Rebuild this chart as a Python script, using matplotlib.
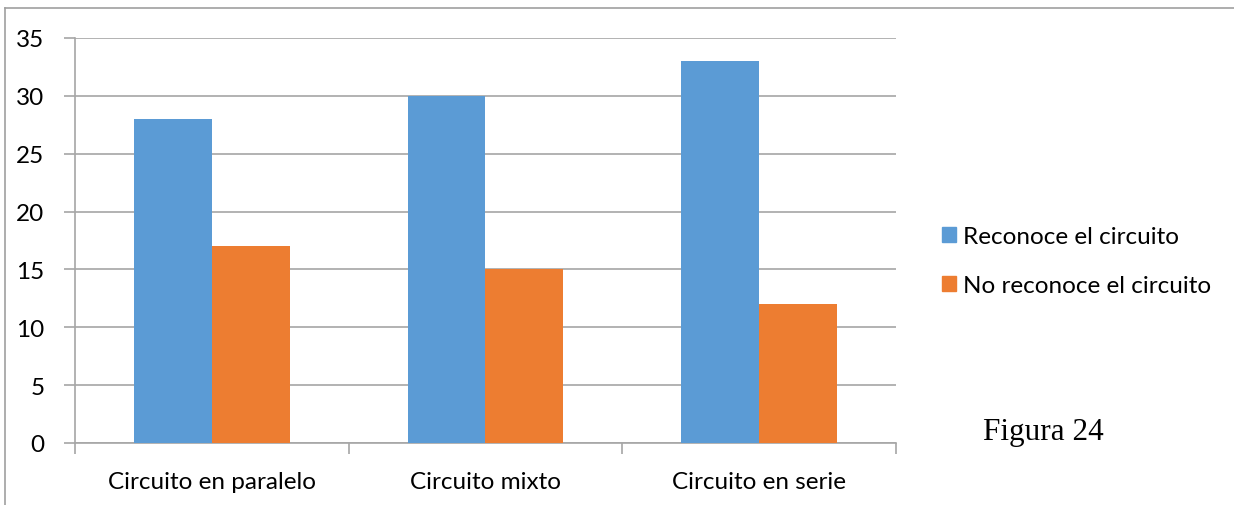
import matplotlib
matplotlib.use("Agg")
import matplotlib.pyplot as plt
from matplotlib.patches import Patch
import numpy as np

categories = ["Circuito en paralelo", "Circuito mixto", "Circuito en serie"]
reconoce = [28, 30, 33]
no_reconoce = [17, 15, 12]
series_names = ["Reconoce el circuito", "No reconoce el circuito"]
colors = ["#5B9BD5", "#ED7D31"]

plt.rcParams["font.family"] = ["Lato", "DejaVu Sans"]

W, H = 1234, 506
fig = plt.figure(figsize=(W / 100, H / 100), dpi=100)

# plot area in pixel coords
left, right, top, bottom = 75, 896, 39, 444
ax = fig.add_axes([left / W, 1 - bottom / H, (right - left) / W, (bottom - top) / H])

x = np.arange(len(categories))
bw = 0.285
ax.bar(x - bw / 2, reconoce, bw, color=colors[0], zorder=3)
ax.bar(x + bw / 2, no_reconoce, bw, color=colors[1], zorder=3)

ax.set_xlim(-0.5, len(categories) - 0.5)
ax.set_ylim(0, 35)
ax.set_yticks(range(0, 36, 5))
ax.yaxis.grid(True, color="#a6a6a6", linewidth=1.2, zorder=0)
ax.set_axisbelow(True)

for s in ["top", "right"]:
    ax.spines[s].set_visible(False)
ax.spines["left"].set_color("#a6a6a6")
ax.spines["bottom"].set_color("#a6a6a6")
ax.spines["left"].set_linewidth(1.2)
ax.spines["bottom"].set_linewidth(1.2)

ax.set_xticks(x)
ax.set_xticklabels(categories, fontsize=17.5)
ax.tick_params(axis="x", length=0, pad=20)
ax.set_xticks(np.arange(-0.5, len(categories)), minor=True)
ax.tick_params(axis="x", which="minor", length=8, color="#a6a6a6", width=1.2)
ax.tick_params(axis="y", length=8, color="#a6a6a6", width=1.2, labelsize=17.5, pad=14)

handles = [Patch(color=c) for c in colors]
fig.legend(handles, series_names, loc="center left", bbox_to_anchor=(920 / W, 1 - 262 / H),
           frameon=False, fontsize=17.5, handlelength=0.6, handleheight=0.6,
           handletextpad=0.25, labelspacing=1.15)

fig.text(983 / W, 1 - 433 / H, "Figura 24", fontsize=22.5, family="Liberation Serif",
         va="center", ha="left")

# outer chart frame (cut off at right and bottom)
fig.add_artist(plt.Line2D([5 / W, 5 / W], [0, 1 - 9 / H], color="#a0a0a0", linewidth=1.2))
fig.add_artist(plt.Line2D([5 / W, 1], [1 - 9 / H, 1 - 9 / H], color="#a0a0a0", linewidth=1.2))

fig.savefig("out.png", dpi=100)
